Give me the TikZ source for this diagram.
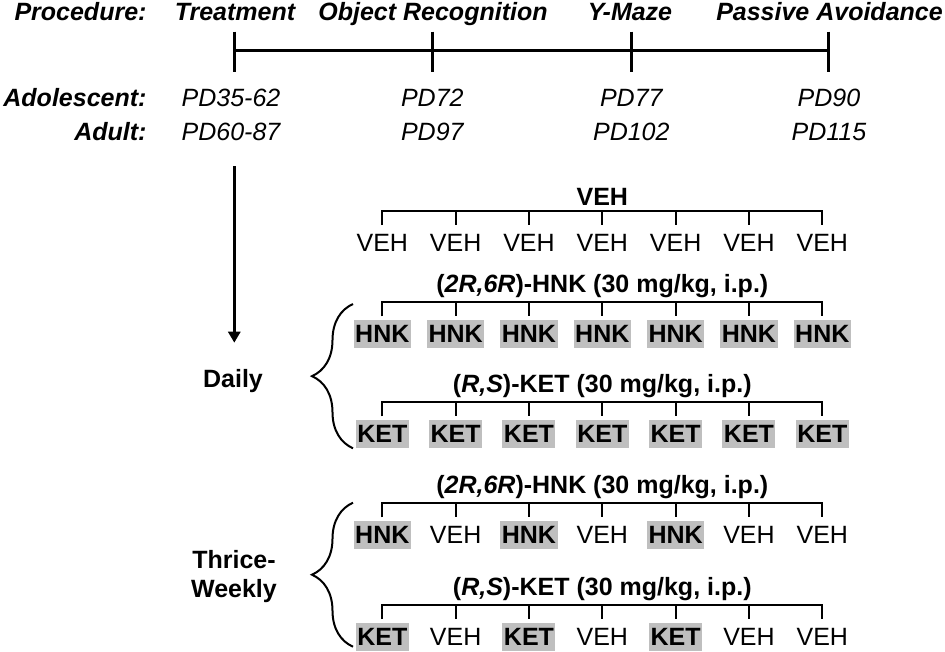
\documentclass[tikz,border=0pt]{standalone}
\usepackage{fontspec}
\setmainfont{Liberation Sans}
\usetikzlibrary{decorations.pathreplacing,arrows.meta}
\newcommand{\drawgroup}[5]{%
  \node[ttl] (#1t) at (602.3,#2-#3) {#4};
  \foreach \k/\t [count=\i] in {#5} {
    \pgfmathsetmacro\xx{382.3+73.333*(\i-1)}
    \coordinate (#1b\i) at (\xx,#2);
    \coordinate (#1e\i) at (\xx,#2+14);
    \node[\k] (#1l\i) at (\xx,#2+40) {\t};
  }
  \draw[tree] (#1e1) -- (#1b1) -- (#1b7) -- (#1e7);
  \foreach \i in {2,...,6} \draw[tree] (#1b\i) -- (#1e\i);
}
\begin{document}
\begin{tikzpicture}[x=1pt,y=-1pt,
  every node/.style={font=\fontsize{25}{29}\selectfont, inner sep=0pt},
  hdr/.style={font=\fontsize{25}{29}\selectfont\bfseries\itshape, anchor=base},
  pd/.style={font=\fontsize{25}{29}\selectfont\itshape, anchor=base},
  ttl/.style={font=\fontsize{25}{29}\selectfont\bfseries, anchor=base},
  leaf/.style={anchor=base, text height=17.9pt, text depth=1pt, inner xsep=1.5pt, inner ysep=4.5pt},
  drug/.style={leaf, fill=gray!50, font=\fontsize{25}{29}\selectfont\bfseries},
  veh/.style={leaf},
  tl/.style={line width=3pt},
  tree/.style={line width=2pt},
  bracestyle/.style={line width=2pt, decorate, decoration={brace, amplitude=41pt}},
 ]
\useasboundingbox (0,0) rectangle (945,651);

% header row
\node[hdr, anchor=base east] (proc) at (146.7,20) {Procedure:};
\node[hdr] (treat) at (235,20) {Treatment};
\node[hdr] (objr) at (433,20) {Object Recognition};
\node[hdr] (ymaze) at (630,20) {Y-Maze};
\node[hdr] (pav) at (829.5,20) {Passive Avoidance};

% timeline
\foreach \n/\x in {1/234.3, 2/432.3, 3/631.3, 4/828.9} {
  \coordinate (t\n) at (\x,50.7);
  \coordinate (tt\n) at (\x,31.7);
  \coordinate (tb\n) at (\x,71.7);
}
\draw[tl] (t1) -- (t4);
\foreach \n in {1,...,4} \draw[tl] (tt\n) -- (tb\n);

% age rows
\node[hdr, anchor=base east] (adol) at (146.7,106) {Adolescent:};
\node[hdr, anchor=base east] (adult) at (146.7,140) {Adult:};
\node[pd] (a1) at (231,106) {PD35-62};
\node[pd] (a2) at (432.3,106) {PD72};
\node[pd] (a3) at (631.3,106) {PD77};
\node[pd] (a4) at (828.9,106) {PD90};
\node[pd] (d1) at (231,140) {PD60-87};
\node[pd] (d2) at (432.3,140) {PD97};
\node[pd] (d3) at (631.3,140) {PD102};
\node[pd] (d4) at (828.9,140) {PD115};

% arrow
\coordinate (as) at (234.3,166);
\coordinate (ae) at (234.3,342.7);
\draw[line width=2.8pt, -{Triangle[length=11pt,width=12pt]}] (as) -- (ae);

% schedule labels
\node[ttl] (daily) at (233,387) {Daily};
\node[ttl] (thr) at (234,568) {Thrice-};
\node[ttl] (wk) at (234,597) {Weekly};

% braces
\coordinate (b1s) at (353,448.3);
\coordinate (b1e) at (353,304);
\coordinate (b2s) at (353,646.7);
\coordinate (b2e) at (353,502.7);
\draw[bracestyle] (b1s) -- (b1e);
\draw[bracestyle] (b2s) -- (b2e);

% groups
\drawgroup{g1}{211}{6}{VEH}{veh/VEH,veh/VEH,veh/VEH,veh/VEH,veh/VEH,veh/VEH,veh/VEH}
\drawgroup{g2}{302.3}{10}{(\textit{2R,6R})-HNK (30 mg/kg, i.p.)}{drug/HNK,drug/HNK,drug/HNK,drug/HNK,drug/HNK,drug/HNK,drug/HNK}
\drawgroup{g3}{402.3}{9.5}{(\textit{R,S})-KET (30 mg/kg, i.p.)}{drug/KET,drug/KET,drug/KET,drug/KET,drug/KET,drug/KET,drug/KET}
\drawgroup{g4}{503.3}{10}{(\textit{2R,6R})-HNK (30 mg/kg, i.p.)}{drug/HNK,veh/VEH,drug/HNK,veh/VEH,drug/HNK,veh/VEH,veh/VEH}
\drawgroup{g5}{605}{10}{(\textit{R,S})-KET (30 mg/kg, i.p.)}{drug/KET,veh/VEH,drug/KET,veh/VEH,drug/KET,veh/VEH,veh/VEH}
\end{tikzpicture}
\end{document}
